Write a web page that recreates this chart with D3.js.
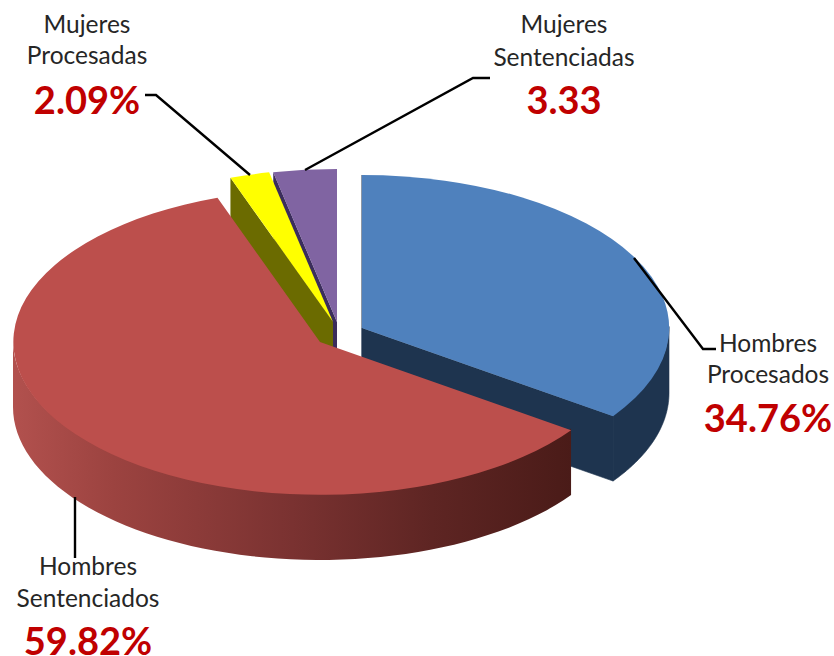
<!DOCTYPE html>
<html><head><meta charset="utf-8">
<script src="https://cdn.jsdelivr.net/npm/d3@7"></script>
<style>html,body{margin:0;padding:0;background:#fff}svg{display:block}
text{font-family:Lato,"Open Sans",sans-serif;text-anchor:middle}
.name{font-size:24.5px;fill:#262626}.pct{font-size:38px;font-weight:700;fill:#c00000}</style>
</head><body><svg id="c" width="834" height="656"></svg>
<script>
const categories = ["Hombres Procesados","Hombres Sentenciados","Mujeres Procesadas","Mujeres Sentenciadas"];
const values = [34.76,59.82,2.09,3.33];
const valueLabels = ["34.76%","59.82%","2.09%","3.33"];
const topColors = ["#4f81bd","#bc4f4c","#ffff00","#8064a2"];
const sideColors = ["#1e344f","url(#wall)","#6b6b00","#3b2d5c"];
const centers = [[362,328],[320,342],[333,322],[337,322]];
const nameLines = [["Hombres","Procesados"],["Hombres","Sentenciados"],["Mujeres","Procesadas"],["Mujeres","Sentenciadas"]];
const labelX = [768,88,87,564];
const labelY = [[343,374,418],[566,598,641],[24,55,100],[24,57,100]];
const leaders = [
  [[634,258],[703,349],[716,349]],
  [[75,497],[75,558]],
  [[145,95],[156,95],[250,175]],
  [[305,170],[473,78],[490,78]]
];
const RX = 307, RY = 153, DEPTH = 65;

const svg = d3.select("#c");
const grad = svg.append("defs").append("linearGradient").attr("id","wall")
  .attr("gradientUnits","userSpaceOnUse").attr("x1",12).attr("x2",572).attr("y1",0).attr("y2",0);
[[0,"#b2514e"],[0.18,"#9c4340"],[0.5,"#7a3231"],[0.75,"#5e2523"],[1,"#4a1b18"]]
  .forEach(([o,c])=>grad.append("stop").attr("offset",o).attr("stop-color",c));

const arcs = d3.pie().sort(null).value(d=>d)(values);
const arc = d3.arc().innerRadius(0).outerRadius(1);
const sx = d3.scaleLinear().domain([-1,1]).range([-RX,RX]);
const sy = d3.scaleLinear().domain([-1,1]).range([-RY,RY]);
const pt = (i,a,dz=0)=>[centers[i][0]+sx(Math.sin(a)), centers[i][1]-sy(Math.cos(a))+dz];
const line = d3.line();

function wallPath(i,a0,a1){
  const n = 60, up=[], dn=[];
  d3.range(n+1).forEach(k=>{const a=a0+(a1-a0)*k/n; up.push(pt(i,a,-1.5)); dn.unshift(pt(i,a,DEPTH));});
  return line(up.concat(dn))+"Z";
}
function cutPath(i,a){
  const c=centers[i], r=pt(i,a);
  return line([c,r,[r[0],r[1]+DEPTH],[c[0],c[1]+DEPTH]])+"Z";
}
function drawSide(d,i,seal){
  const p=svg.append("path").attr("d",d).attr("fill",sideColors[i]);
  if(seal) p.attr("stroke",sideColors[i]).attr("stroke-width",0.6);
}
function drawTop(i){
  svg.append("path").attr("d",arc(arcs[i])).attr("fill",topColors[i])
    .attr("transform",`translate(${centers[i]}) scale(${RX},${RY})`);
}
// back to front: purple, yellow, blue, red
drawSide(cutPath(3,arcs[3].startAngle),3);
drawSide(cutPath(3,arcs[3].endAngle),3);
drawTop(3);
drawSide(cutPath(2,arcs[2].startAngle),2);
drawTop(2);
drawSide(cutPath(0,arcs[0].startAngle),0,true);
drawSide(cutPath(0,arcs[0].endAngle),0,true);
drawSide(wallPath(0,Math.PI/2,arcs[0].endAngle),0,true);
drawTop(0);
drawSide(wallPath(1,arcs[1].startAngle,Math.PI*1.5),1);
drawTop(1);

// leader lines
leaders.forEach(p=>svg.append("path").attr("d",line(p)).attr("fill","none")
  .attr("stroke","#000").attr("stroke-width",2.4));

// labels
categories.forEach((c,i)=>{
  nameLines[i].forEach((t,k)=>svg.append("text").attr("class","name").attr("x",labelX[i]).attr("y",labelY[i][k])
    .attr("dy","0.35em").text(t));
  svg.append("text").attr("class","pct").attr("x",labelX[i]).attr("y",labelY[i][2]).attr("dy","0.36em").text(valueLabels[i]);
});
</script></body></html>
